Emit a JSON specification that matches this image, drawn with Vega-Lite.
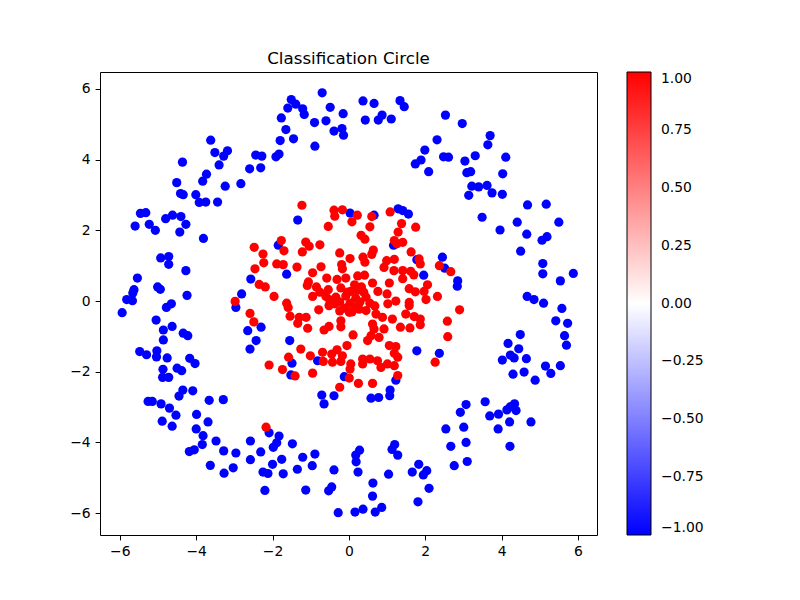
{
  "$schema": "https://vega.github.io/schema/vega-lite/v6.json",
  "width": 497,
  "height": 463,
  "autosize": {"type": "none"},
  "padding": {"left": 100, "top": 72, "right": 203, "bottom": 65},
  "background": "white",
  "title": {"text": "Classification Circle", "font": "DejaVu Sans", "fontSize": 16.7, "fontWeight": "normal", "color": "black", "offset": 4, "anchor": "middle"},
  "config": {
    "view": {"stroke": "black", "strokeWidth": 1},
    "axis": {"labelFont": "DejaVu Sans", "labelFontSize": 13.9, "labelColor": "black", "tickColor": "black", "tickSize": 4.9, "tickWidth": 1, "labelPadding": 4.9, "grid": false, "domain": false, "title": null}
  },
  "data": {"values": [
    {"x":-3.62,"y":4.55,"c":-1},{"x":-3.51,"y":4.20,"c":-1},{"x":-3.18,"y":4.25,"c":-1},{"x":-3.28,"y":4.10,"c":-1},{"x":-4.36,"y":3.93,"c":-1},{"x":-3.40,"y":3.85,"c":-1},{"x":-2.44,"y":4.13,"c":-1},{"x":-2.28,"y":4.10,"c":-1},{"x":-2.31,"y":3.77,"c":-1},{"x":-2.60,"y":3.74,"c":-1},{"x":-3.73,"y":3.59,"c":-1},{"x":-3.83,"y":3.39,"c":-1},{"x":-4.51,"y":3.35,"c":-1},{"x":-3.24,"y":3.25,"c":-1},{"x":-2.83,"y":3.32,"c":-1},
    {"x":-0.70,"y":5.89,"c":-1},{"x":-1.51,"y":5.70,"c":-1},{"x":-1.39,"y":5.57,"c":-1},{"x":-1.60,"y":5.46,"c":-1},{"x":-1.21,"y":5.44,"c":-1},{"x":-1.17,"y":5.28,"c":-1},{"x":-0.49,"y":5.48,"c":-1},{"x":-0.15,"y":5.30,"c":-1},{"x":-1.77,"y":5.18,"c":-1},{"x":-0.90,"y":5.05,"c":-1},{"x":-0.60,"y":5.10,"c":-1},{"x":0.37,"y":5.66,"c":-1},{"x":0.66,"y":5.59,"c":-1},{"x":1.34,"y":5.67,"c":-1},{"x":1.45,"y":5.50,"c":-1},{"x":0.43,"y":5.12,"c":-1},{"x":0.77,"y":5.12,"c":-1},{"x":0.87,"y":5.26,"c":-1},{"x":1.11,"y":5.15,"c":-1},{"x":-1.65,"y":4.85,"c":-1},{"x":-0.39,"y":4.81,"c":-1},{"x":-0.18,"y":4.88,"c":-1},{"x":-0.14,"y":4.69,"c":-1},{"x":-1.45,"y":4.59,"c":-1},{"x":-1.80,"y":4.54,"c":-1},{"x":-0.89,"y":4.38,"c":-1},{"x":-1.83,"y":4.16,"c":-1},{"x":-1.91,"y":4.08,"c":-1},{"x":1.99,"y":4.27,"c":-1},{"x":1.89,"y":3.99,"c":-1},{"x":1.74,"y":3.88,"c":-1},{"x":2.09,"y":3.66,"c":-1},
    {"x":2.53,"y":5.26,"c":-1},{"x":2.97,"y":5.02,"c":-1},{"x":2.31,"y":4.56,"c":-1},{"x":3.70,"y":4.68,"c":-1},{"x":3.64,"y":4.42,"c":-1},{"x":2.48,"y":4.08,"c":-1},{"x":2.61,"y":4.07,"c":-1},{"x":3.04,"y":3.96,"c":-1},{"x":3.31,"y":4.11,"c":-1},{"x":4.11,"y":4.07,"c":-1},{"x":3.09,"y":3.63,"c":-1},{"x":3.19,"y":3.66,"c":-1},{"x":4.03,"y":3.60,"c":-1},{"x":3.22,"y":3.25,"c":-1},{"x":3.40,"y":3.23,"c":-1},{"x":3.62,"y":3.27,"c":-1},
    {"x":-4.41,"y":3.04,"c":-1},{"x":-4.34,"y":3.01,"c":-1},{"x":-4.01,"y":3.01,"c":-1},{"x":-3.92,"y":2.79,"c":-1},{"x":-3.75,"y":2.80,"c":-1},{"x":-3.44,"y":2.80,"c":-1},{"x":-5.46,"y":2.48,"c":-1},{"x":-5.32,"y":2.50,"c":-1},{"x":-5.60,"y":2.12,"c":-1},{"x":-5.23,"y":2.17,"c":-1},{"x":-5.07,"y":2.00,"c":-1},{"x":-4.80,"y":2.33,"c":-1},{"x":-4.62,"y":2.43,"c":-1},{"x":-4.40,"y":2.39,"c":-1},{"x":-4.27,"y":2.17,"c":-1},{"x":-4.43,"y":1.95,"c":-1},{"x":-3.81,"y":1.77,"c":-1},{"x":-4.93,"y":1.22,"c":-1},{"x":-4.72,"y":1.26,"c":-1},{"x":-4.72,"y":1.04,"c":-1},{"x":-4.27,"y":0.86,"c":-1},{"x":-5.54,"y":0.65,"c":-1},{"x":-5.01,"y":0.40,"c":-1},{"x":-4.94,"y":0.33,"c":-1},{"x":-5.63,"y":0.32,"c":-1},{"x":-5.66,"y":0.23,"c":-1},{"x":-5.82,"y":0.04,"c":-1},{"x":-5.67,"y":0.01,"c":-1},{"x":-4.24,"y":0.16,"c":-1},{"x":-2.57,"y":0.62,"c":-1},{"x":-2.81,"y":0.20,"c":-1},
    {"x":-1.34,"y":2.29,"c":-1},{"x":0.03,"y":2.49,"c":-1},{"x":0.66,"y":2.43,"c":-1},{"x":1.29,"y":2.61,"c":-1},{"x":1.41,"y":2.56,"c":-1},{"x":1.56,"y":2.46,"c":-1},{"x":1.17,"y":1.58,"c":-1},{"x":-1.85,"y":1.58,"c":-1},{"x":1.78,"y":1.17,"c":-1},{"x":1.96,"y":0.73,"c":-1},{"x":-1.63,"y":0.76,"c":-1},
    {"x":3.14,"y":2.99,"c":-1},{"x":3.75,"y":3.06,"c":-1},{"x":4.02,"y":3.02,"c":-1},{"x":4.68,"y":2.72,"c":-1},{"x":5.17,"y":2.74,"c":-1},{"x":3.49,"y":2.37,"c":-1},{"x":4.41,"y":2.23,"c":-1},{"x":5.50,"y":2.23,"c":-1},{"x":3.96,"y":2.01,"c":-1},{"x":4.66,"y":1.89,"c":-1},{"x":5.19,"y":1.82,"c":-1},{"x":5.06,"y":1.72,"c":-1},{"x":4.50,"y":1.41,"c":-1},{"x":2.45,"y":1.24,"c":-1},{"x":2.51,"y":0.93,"c":-1},{"x":5.08,"y":1.06,"c":-1},{"x":5.08,"y":0.77,"c":-1},{"x":5.88,"y":0.78,"c":-1},{"x":5.54,"y":0.57,"c":-1},{"x":2.85,"y":0.57,"c":-1},{"x":2.84,"y":0.42,"c":-1},{"x":4.67,"y":0.13,"c":-1},{"x":4.85,"y":0.04,"c":-1},{"x":5.10,"y":-0.06,"c":-1},
    {"x":-5.94,"y":-0.33,"c":-1},{"x":-4.78,"y":-0.18,"c":-1},{"x":-4.65,"y":-0.08,"c":-1},{"x":-2.96,"y":-0.18,"c":-1},{"x":-2.30,"y":-0.74,"c":-1},{"x":-2.65,"y":-0.84,"c":-1},{"x":-2.43,"y":-1.12,"c":-1},{"x":-2.59,"y":-1.36,"c":-1},{"x":-5.05,"y":-0.54,"c":-1},{"x":-4.86,"y":-0.82,"c":-1},{"x":-4.63,"y":-0.72,"c":-1},{"x":-4.86,"y":-1.10,"c":-1},{"x":-4.34,"y":-0.91,"c":-1},{"x":-4.22,"y":-0.98,"c":-1},{"x":-5.48,"y":-1.43,"c":-1},{"x":-5.30,"y":-1.52,"c":-1},{"x":-5.03,"y":-1.41,"c":-1},{"x":-5.04,"y":-1.58,"c":-1},{"x":-4.76,"y":-1.61,"c":-1},{"x":-4.17,"y":-1.62,"c":-1},{"x":-4.03,"y":-1.77,"c":-1},{"x":-4.87,"y":-1.93,"c":-1},{"x":-4.50,"y":-1.90,"c":-1},{"x":-4.38,"y":-1.97,"c":-1},{"x":-4.88,"y":-2.16,"c":-1},{"x":-4.72,"y":-2.16,"c":-1},{"x":-4.35,"y":-2.52,"c":-1},{"x":-4.09,"y":-2.54,"c":-1},{"x":-4.45,"y":-2.69,"c":-1},{"x":-5.26,"y":-2.84,"c":-1},{"x":-5.15,"y":-2.84,"c":-1},{"x":-4.92,"y":-2.91,"c":-1},{"x":-4.70,"y":-3.03,"c":-1},{"x":-3.66,"y":-2.81,"c":-1},{"x":-3.29,"y":-2.79,"c":-1},{"x":-4.53,"y":-3.23,"c":-1},{"x":-3.99,"y":-3.21,"c":-1},{"x":-4.89,"y":-3.40,"c":-1},{"x":-3.69,"y":-3.42,"c":-1},
    {"x":-1.55,"y":-1.12,"c":-1},{"x":-1.49,"y":-1.76,"c":-1},{"x":-1.52,"y":-2.09,"c":-1},{"x":-0.82,"y":-1.69,"c":-1},{"x":-0.12,"y":-2.14,"c":-1},{"x":1.23,"y":-2.24,"c":-1},{"x":1.78,"y":-1.41,"c":-1},{"x":-0.71,"y":-2.66,"c":-1},{"x":-0.39,"y":-2.68,"c":-1},{"x":-0.65,"y":-2.91,"c":-1},{"x":0.58,"y":-2.75,"c":-1},{"x":0.78,"y":-2.73,"c":-1},{"x":1.08,"y":-2.52,"c":-1},{"x":1.07,"y":-2.68,"c":-1},{"x":2.37,"y":-1.48,"c":-1},
    {"x":5.58,"y":-0.21,"c":-1},{"x":5.42,"y":-0.56,"c":-1},{"x":5.73,"y":-0.63,"c":-1},{"x":5.65,"y":-0.98,"c":-1},{"x":5.70,"y":-1.25,"c":-1},{"x":4.49,"y":-0.95,"c":-1},{"x":4.17,"y":-1.20,"c":-1},{"x":4.45,"y":-1.35,"c":-1},{"x":4.23,"y":-1.53,"c":-1},{"x":4.33,"y":-1.61,"c":-1},{"x":4.02,"y":-1.67,"c":-1},{"x":4.65,"y":-1.63,"c":-1},{"x":5.15,"y":-1.84,"c":-1},{"x":5.54,"y":-1.83,"c":-1},{"x":5.29,"y":-2.05,"c":-1},{"x":4.30,"y":-2.07,"c":-1},{"x":4.59,"y":-2.01,"c":-1},{"x":4.88,"y":-2.24,"c":-1},{"x":3.57,"y":-2.85,"c":-1},{"x":3.07,"y":-2.93,"c":-1},{"x":2.92,"y":-3.15,"c":-1},{"x":4.34,"y":-2.91,"c":-1},{"x":4.23,"y":-2.99,"c":-1},{"x":4.14,"y":-3.08,"c":-1},{"x":4.38,"y":-3.10,"c":-1},{"x":3.92,"y":-3.20,"c":-1},{"x":3.69,"y":-3.25,"c":-1},{"x":4.21,"y":-3.42,"c":-1},{"x":4.77,"y":-3.42,"c":-1},
    {"x":-4.63,"y":-3.54,"c":-1},{"x":-4.00,"y":-3.62,"c":-1},{"x":-3.82,"y":-3.81,"c":-1},{"x":-3.84,"y":-4.06,"c":-1},{"x":-3.48,"y":-3.96,"c":-1},{"x":-4.18,"y":-4.26,"c":-1},{"x":-4.05,"y":-4.21,"c":-1},{"x":-3.28,"y":-4.24,"c":-1},{"x":-2.96,"y":-4.30,"c":-1},{"x":-2.58,"y":-3.96,"c":-1},{"x":-2.31,"y":-4.27,"c":-1},{"x":-2.58,"y":-4.49,"c":-1},{"x":-3.63,"y":-4.65,"c":-1},{"x":-3.27,"y":-4.87,"c":-1},{"x":-3.03,"y":-4.72,"c":-1},{"x":-2.25,"y":-4.84,"c":-1},{"x":-2.12,"y":-4.88,"c":-1},{"x":-2.20,"y":-5.36,"c":-1},
    {"x":-2.09,"y":-3.73,"c":-1},{"x":-1.83,"y":-3.82,"c":-1},{"x":-1.89,"y":-4.01,"c":-1},{"x":-1.98,"y":-4.14,"c":-1},{"x":-1.48,"y":-4.04,"c":-1},{"x":-2.00,"y":-4.62,"c":-1},{"x":-1.76,"y":-4.48,"c":-1},{"x":-1.72,"y":-4.89,"c":-1},{"x":-1.35,"y":-4.76,"c":-1},{"x":-1.21,"y":-4.42,"c":-1},{"x":-0.89,"y":-4.33,"c":-1},{"x":-0.96,"y":-4.66,"c":-1},{"x":-0.39,"y":-4.78,"c":-1},{"x":-1.13,"y":-5.35,"c":-1},{"x":-0.53,"y":-5.37,"c":-1},{"x":-0.45,"y":-5.26,"c":-1},{"x":-0.28,"y":-5.99,"c":-1},{"x":0.28,"y":-4.22,"c":-1},{"x":0.18,"y":-4.36,"c":-1},{"x":0.19,"y":-4.55,"c":-1},{"x":0.24,"y":-4.84,"c":-1},{"x":0.63,"y":-5.15,"c":-1},{"x":0.62,"y":-5.52,"c":-1},{"x":0.16,"y":-5.97,"c":-1},{"x":0.37,"y":-5.89,"c":-1},{"x":0.69,"y":-5.97,"c":-1},{"x":0.86,"y":-5.84,"c":-1},{"x":1.20,"y":-4.06,"c":-1},{"x":1.13,"y":-4.20,"c":-1},{"x":1.28,"y":-4.36,"c":-1},{"x":1.04,"y":-4.90,"c":-1},{"x":1.66,"y":-4.84,"c":-1},{"x":1.83,"y":-4.62,"c":-1},{"x":1.95,"y":-4.92,"c":-1},{"x":2.04,"y":-4.80,"c":-1},{"x":1.81,"y":-5.68,"c":-1},{"x":2.10,"y":-5.30,"c":-1},
    {"x":2.54,"y":-3.62,"c":-1},{"x":3.01,"y":-3.57,"c":-1},{"x":3.91,"y":-3.62,"c":-1},{"x":2.67,"y":-4.11,"c":-1},{"x":3.07,"y":-4.00,"c":-1},{"x":4.22,"y":-4.11,"c":-1},{"x":2.76,"y":-4.66,"c":-1},{"x":3.10,"y":-4.54,"c":-1},
    {"x":-2.48,"y":1.52,"c":1},{"x":-2.25,"y":1.33,"c":1},{"x":-2.46,"y":0.91,"c":1},{"x":-2.23,"y":1.08,"c":1},{"x":-2.35,"y":0.47,"c":1},{"x":-2.19,"y":0.40,"c":1},{"x":-2.98,"y":-0.01,"c":1},{"x":-1.23,"y":2.71,"c":1},{"x":-0.39,"y":2.57,"c":1},{"x":-0.17,"y":2.58,"c":1},{"x":-0.37,"y":2.40,"c":1},{"x":0.22,"y":2.43,"c":1},{"x":0.08,"y":2.24,"c":1},{"x":0.60,"y":2.39,"c":1},{"x":1.08,"y":2.52,"c":1},{"x":1.38,"y":2.19,"c":1},{"x":1.75,"y":2.09,"c":1},{"x":-0.54,"y":2.11,"c":1},{"x":0.55,"y":2.10,"c":1},{"x":0.32,"y":1.86,"c":1},{"x":0.42,"y":1.75,"c":1},{"x":1.29,"y":1.95,"c":1},{"x":1.19,"y":1.71,"c":1},{"x":1.26,"y":1.62,"c":1},{"x":1.41,"y":1.66,"c":1},{"x":-1.77,"y":1.71,"c":1},{"x":-1.70,"y":1.42,"c":1},{"x":-1.13,"y":1.67,"c":1},{"x":-1.04,"y":1.55,"c":1},{"x":-0.76,"y":1.59,"c":1},{"x":-1.22,"y":1.39,"c":1},{"x":-0.24,"y":1.36,"c":1},{"x":0.64,"y":1.44,"c":1},{"x":0.60,"y":1.32,"c":1},{"x":1.63,"y":1.39,"c":1},{"x":0.03,"y":1.20,"c":1},{"x":0.37,"y":1.24,"c":1},{"x":0.42,"y":1.10,"c":1},{"x":0.99,"y":1.14,"c":1},{"x":1.19,"y":1.18,"c":1},{"x":-0.19,"y":1.03,"c":1},{"x":-0.17,"y":0.91,"c":1},{"x":-1.89,"y":1.05,"c":1},{"x":-1.72,"y":1.03,"c":1},{"x":-1.36,"y":0.96,"c":1},{"x":-0.73,"y":0.97,"c":1},{"x":0.92,"y":0.95,"c":1},{"x":1.84,"y":1.19,"c":1},{"x":1.87,"y":1.05,"c":1},{"x":1.18,"y":0.86,"c":1},{"x":1.41,"y":0.86,"c":1},{"x":1.41,"y":0.63,"c":1},{"x":1.62,"y":0.84,"c":1},{"x":1.70,"y":0.74,"c":1},{"x":-0.95,"y":0.80,"c":1},{"x":-1.06,"y":0.54,"c":1},{"x":-1.09,"y":0.44,"c":1},{"x":-0.85,"y":0.40,"c":1},{"x":-0.58,"y":0.65,"c":1},{"x":-0.31,"y":0.61,"c":1},{"x":-0.08,"y":0.65,"c":1},{"x":0.23,"y":0.71,"c":1},{"x":0.41,"y":0.73,"c":1},{"x":0.15,"y":0.46,"c":1},{"x":0.33,"y":0.40,"c":1},{"x":0.62,"y":0.51,"c":1},{"x":1.06,"y":0.51,"c":1},{"x":0.76,"y":0.27,"c":1},{"x":1.00,"y":0.20,"c":1},{"x":1.58,"y":0.35,"c":1},{"x":2.06,"y":0.46,"c":1},{"x":1.97,"y":0.27,"c":1},{"x":1.74,"y":0.26,"c":1},{"x":-0.54,"y":0.32,"c":1},{"x":-0.21,"y":0.37,"c":1},{"x":0.05,"y":0.27,"c":1},{"x":-1.96,"y":0.13,"c":1},{"x":-0.95,"y":0.13,"c":1},{"x":-0.60,"y":0.13,"c":1},{"x":1.58,"y":-0.04,"c":1},{"x":2.02,"y":0.04,"c":1},{"x":-1.63,"y":-0.06,"c":1},{"x":2.37,"y":1.00,"c":1},{"x":2.67,"y":0.83,"c":1},{"x":2.32,"y":0.13,"c":1},{"x":-2.59,"y":-0.35,"c":1},{"x":-2.49,"y":-0.59,"c":1},
    {"x":-1.59,"y":-0.18,"c":1},{"x":-1.54,"y":-0.43,"c":1},{"x":-1.30,"y":-0.46,"c":1},{"x":-1.12,"y":-0.46,"c":1},{"x":-1.34,"y":-0.63,"c":1},{"x":-1.08,"y":-0.77,"c":1},{"x":-0.52,"y":-0.13,"c":1},{"x":-0.65,"y":-0.82,"c":1},{"x":-0.52,"y":-0.72,"c":1},{"x":-0.21,"y":-0.56,"c":1},{"x":-0.21,"y":-0.73,"c":1},{"x":0.01,"y":-0.32,"c":1},{"x":0.27,"y":-0.23,"c":1},{"x":0.45,"y":-0.27,"c":1},{"x":0.71,"y":-0.37,"c":1},{"x":0.88,"y":-0.46,"c":1},{"x":1.14,"y":-0.51,"c":1},{"x":0.62,"y":-0.65,"c":1},{"x":0.66,"y":-0.79,"c":1},{"x":0.92,"y":-0.79,"c":1},{"x":0.58,"y":-0.98,"c":1},{"x":0.79,"y":-1.03,"c":1},{"x":0.49,"y":-1.12,"c":1},{"x":0.11,"y":-0.96,"c":1},{"x":-0.05,"y":-1.26,"c":1},{"x":1.35,"y":-0.74,"c":1},{"x":1.60,"y":-0.76,"c":1},{"x":1.49,"y":-0.37,"c":1},{"x":1.71,"y":-0.44,"c":1},{"x":1.87,"y":-0.51,"c":1},{"x":1.87,"y":-0.67,"c":1},{"x":1.58,"y":-0.13,"c":1},{"x":-1.26,"y":-1.36,"c":1},{"x":-1.58,"y":-1.59,"c":1},{"x":-2.09,"y":-1.81,"c":1},{"x":-1.74,"y":-1.94,"c":1},{"x":-1.01,"y":-1.55,"c":1},{"x":-0.69,"y":-1.45,"c":1},{"x":-0.67,"y":-1.71,"c":1},{"x":-0.45,"y":-1.50,"c":1},{"x":-0.31,"y":-1.38,"c":1},{"x":-0.17,"y":-1.55,"c":1},{"x":-0.43,"y":-1.73,"c":1},{"x":-0.21,"y":-1.71,"c":1},{"x":0.05,"y":-1.78,"c":1},{"x":0.03,"y":-1.92,"c":1},{"x":0.36,"y":-1.64,"c":1},{"x":0.36,"y":-1.78,"c":1},{"x":0.55,"y":-1.64,"c":1},{"x":0.75,"y":-1.69,"c":1},{"x":0.84,"y":-1.88,"c":1},{"x":1.01,"y":-1.78,"c":1},{"x":1.19,"y":-1.83,"c":1},{"x":1.06,"y":-1.26,"c":1},{"x":1.23,"y":-1.29,"c":1},{"x":1.19,"y":-1.48,"c":1},{"x":1.28,"y":-1.59,"c":1},{"x":-0.95,"y":-2.04,"c":1},{"x":-1.41,"y":-2.12,"c":1},{"x":0.01,"y":-2.18,"c":1},{"x":0.25,"y":-2.33,"c":1},{"x":0.62,"y":-2.33,"c":1},{"x":1.28,"y":-2.11,"c":1},{"x":-0.24,"y":-2.44,"c":1},
    {"x":2.90,"y":-0.25,"c":1},{"x":2.58,"y":-0.57,"c":1},{"x":2.59,"y":-1.01,"c":1},{"x":2.26,"y":-1.73,"c":1},{"x":-2.17,"y":-3.57,"c":1},
    {"x":-0.34,"y":0.11,"c":1},{"x":-0.08,"y":0.14,"c":1},{"x":0.18,"y":0.08,"c":1},{"x":0.45,"y":0.11,"c":1},{"x":-0.24,"y":-0.03,"c":1},{"x":0.03,"y":-0.06,"c":1},{"x":0.29,"y":-0.03,"c":1},{"x":0.55,"y":-0.06,"c":1},{"x":-0.10,"y":-0.20,"c":1},{"x":0.16,"y":-0.17,"c":1},{"x":-0.37,"y":-0.08,"c":1},{"x":0.39,"y":0.25,"c":1},{"x":-0.50,"y":0.03,"c":1},{"x":0.08,"y":-0.31,"c":1},{"x":-0.24,"y":-0.28,"c":1},{"x":0.68,"y":-0.14,"c":1},{"x":0.24,"y":0.31,"c":1},{"x":-0.03,"y":0.25,"c":1},{"x":-0.76,"y":0.25,"c":1},{"x":1.02,"y":-0.08,"c":1},{"x":1.23,"y":0.00,"c":1},{"x":-0.79,"y":-0.25,"c":1}
  ]},
  "mark": {"type": "point", "filled": true, "shape": "circle", "size": 85, "opacity": 1},
  "encoding": {
    "x": {"field": "x", "type": "quantitative", "scale": {"domain": [-6.52, 6.50], "nice": false, "zero": false}, "axis": {"values": [-6, -4, -2, 0, 2, 4, 6], "labelExpr": "replace(datum.label, '-', '−')"}},
    "y": {"field": "y", "type": "quantitative", "scale": {"domain": [-6.62, 6.48], "nice": false, "zero": false}, "axis": {"values": [-6, -4, -2, 0, 2, 4, 6], "labelExpr": "replace(datum.label, '-', '−')"}},
    "color": {"field": "c", "type": "quantitative", "scale": {"domain": [-1, 0, 1], "range": ["#0000ff", "#ffffff", "#ff0000"], "interpolate": "rgb"},
      "legend": {"title": null, "orient": "none", "legendX": 527, "legendY": 0, "direction": "vertical", "gradientLength": 463, "gradientThickness": 24, "gradientStrokeColor": "black", "gradientStrokeWidth": 1, "values": [-1, -0.75, -0.5, -0.25, 0, 0.25, 0.5, 0.75, 1], "labelExpr": "replace(format(datum.value, '.2f'), '-', '−')", "labelFont": "DejaVu Sans", "labelFontSize": 13.9, "labelColor": "black", "labelOffset": 10, "labelOverlap": false, "padding": 0}}
  }
}
